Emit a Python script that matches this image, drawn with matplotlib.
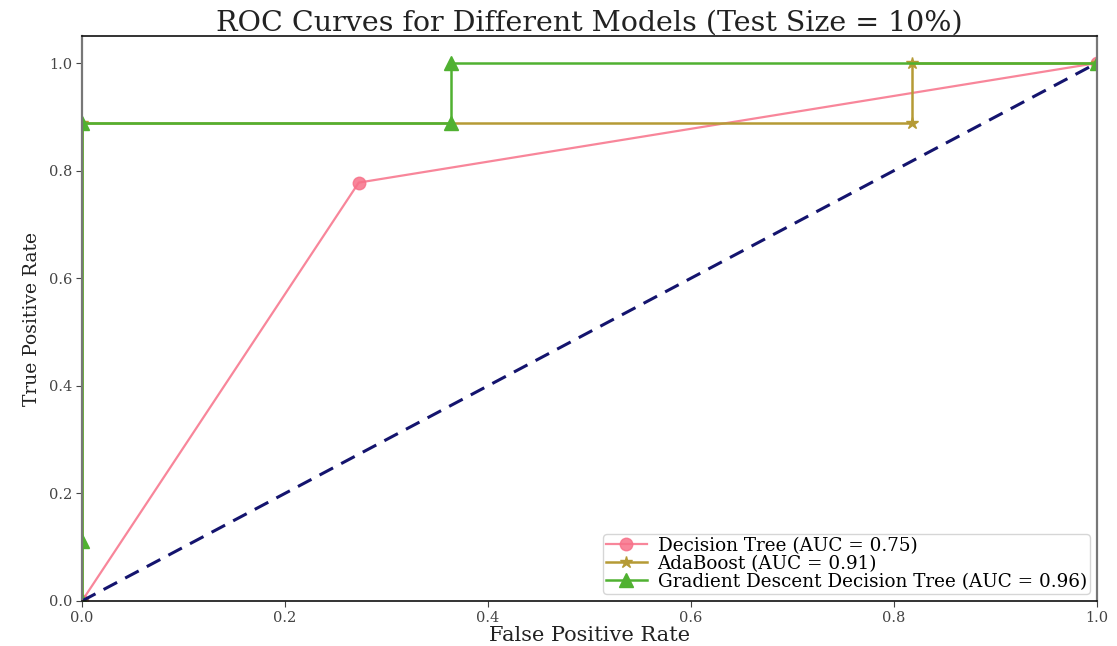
import matplotlib
matplotlib.use("Agg")
import matplotlib.pyplot as plt

plt.rcParams['font.family'] = ['DejaVu Serif']

# ROC points for each model
dt_fpr = [0.0, 0.2727, 1.0]
dt_tpr = [0.0, 0.7778, 1.0]

ada_fpr = [0.0, 0.0, 0.8182, 0.8182, 1.0]
ada_tpr = [0.0, 0.8889, 0.8889, 1.0, 1.0]

gd_fpr = [0.0, 0.0, 0.0, 0.3636, 0.3636, 1.0]
gd_tpr = [0.0, 0.1111, 0.8889, 0.8889, 1.0, 1.0]

labels = ["Decision Tree (AUC = 0.75)",
          "AdaBoost (AUC = 0.91)",
          "Gradient Descent Decision Tree (AUC = 0.96)"]
colors = ["#f77189", "#b59a35", "#50b131"]

fig = plt.figure(figsize=(11.17, 6.46), dpi=100)
ax = fig.add_axes([0.0734, 0.0697, 0.9086, 0.8743])

ax.plot(dt_fpr, dt_tpr, color=colors[0], lw=1.6, alpha=0.85,
        marker='o', markersize=9, label=labels[0])
ax.plot(ada_fpr, ada_tpr, color=colors[1], lw=1.8,
        marker='*', markersize=9, label=labels[1])
ax.plot(gd_fpr, gd_tpr, color=colors[2], lw=1.8,
        marker='^', markersize=10, label=labels[2])
ax.plot([0, 1], [0, 1], color='#14146e', lw=2.2, linestyle=(0, (5, 3)))

ax.set_xlim(0.0, 1.0)
ax.set_ylim(0.0, 1.05)
ax.set_xticks([0.0, 0.2, 0.4, 0.6, 0.8, 1.0])
ax.set_yticks([0.0, 0.2, 0.4, 0.6, 0.8, 1.0])
ax.tick_params(labelsize=10.5, colors='#444444', length=4, pad=3)
ax.set_xlabel("False Positive Rate", fontsize=15, color='#222222', labelpad=1)
ax.set_ylabel("True Positive Rate", fontsize=13.5, color='#222222', labelpad=6)
ax.set_title("ROC Curves for Different Models (Test Size = 10%)", fontsize=20.5,
             color='#222222', pad=3)

for side in ('left', 'right'):
    ax.spines[side].set_color('#777777')
    ax.spines[side].set_linewidth(1.6)
for side in ('top', 'bottom'):
    ax.spines[side].set_color('#111111')
    ax.spines[side].set_linewidth(1.2)

ax.legend(loc='lower right', fontsize=13.2, framealpha=0.8,
          edgecolor='#cccccc', borderpad=0.15, labelspacing=0.0,
          handlelength=2.2, handletextpad=0.6, borderaxespad=0.4)

fig.savefig("out.png", dpi=100)
